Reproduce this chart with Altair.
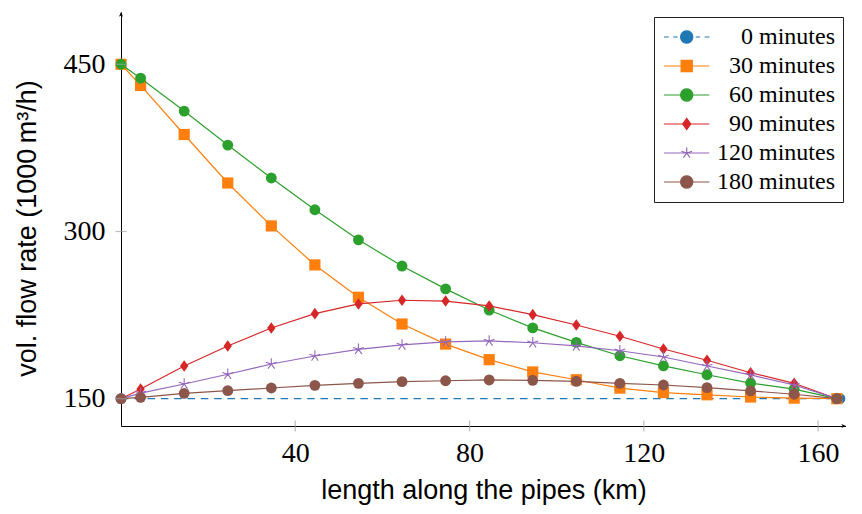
import math
import altair as alt
import pandas as pd

# ---------------- data ----------------
series = ["0 minutes", "30 minutes", "60 minutes", "90 minutes", "120 minutes", "180 minutes"]
colors = ["#1f77b4", "#ff7f0e", "#2ca02c", "#d62728", "#9467bd", "#8c564b"]

x_km = [0, 4.5, 14.5, 24.5, 34.5, 44.5, 54.5, 64.5, 74.5, 84.5, 94.5,
        104.5, 114.5, 124.5, 134.5, 144.5, 154.5, 164.3]

x_0min = [0, 165.0]
q_0min = [150, 150]
q_30min = [450, 431, 387, 343.5, 305, 270, 241, 217, 199, 185, 174,
           167, 159.5, 155.5, 153.5, 151.5, 150.5, 150]
q_60min = [450, 437.5, 408, 377.5, 348, 319.5, 292.5, 269, 248.5, 229.5, 213.5,
           200.5, 188.5, 179.5, 171.5, 164, 158.5, 150]
q_90min = [150, 158.7, 179.3, 197.3, 213.4, 226.3, 235, 238.3, 237.6, 233.2, 225.4,
           216.1, 206, 194.6, 184.5, 173.3, 163.8, 150]
q_120min = [150, 155, 163.2, 171.9, 181.1, 188.3, 194.3, 198.2, 200.9, 201.8, 200.2,
            197.3, 193, 187.4, 179.3, 171.3, 162.3, 150]
q_180min = [150, 151.2, 154.8, 157.2, 159.6, 162, 163.8, 165.3, 166.1, 166.8, 166.5,
            165.6, 163.8, 162.3, 159.9, 157, 154, 150]

x_ticks = [40, 80, 120, 160]
y_ticks = [150, 300, 450]

XMIN, XMAX = 0, 166.4
YMIN, YMAX = 125.5, 496.9

# ---------------- table ----------------
rows = [dict(series=series[0], x=a, y=b) for a, b in zip(x_0min, q_0min)]
for name, vals in zip(series[1:], [q_30min, q_60min, q_90min, q_120min, q_180min]):
    rows += [dict(series=name, x=a, y=b) for a, b in zip(x_km, vals)]
df = pd.DataFrame(rows)

# ---------------- legend symbol shapes (unit = 10 px, shifted right) ----------------
U = 10.0      # px per path unit for symbolSize 400
SH = 1.27     # horizontal shift of the symbol, in units


def P(xpx, ypx):
    return f"{xpx / U + SH:.3f},{ypx / U:.3f}"


def poly_circle(r, n=20):
    pts = [P(r * math.cos(2 * math.pi * k / n), r * math.sin(2 * math.pi * k / n)) for k in range(n)]
    return "M" + " L".join(pts) + " Z "


def seg(a, b):
    return f"M{P(a, 0)} L{P(b, 0)} "


CIRC = poly_circle(6.1)
SQ = f"M{P(-5.6, -5.6)} L{P(5.6, -5.6)} L{P(5.6, 5.6)} L{P(-5.6, 5.6)} Z "
DIA = f"M{P(0, -5.6)} L{P(4.1, 0)} L{P(0, 5.6)} L{P(-4.1, 0)} Z "
STAR = "".join(f"M{P(0, 0)} L{P(5.6 * math.sin(a), -5.6 * math.cos(a))} "
               for a in [2 * math.pi * k / 5 for k in range(5)])
LINE = seg(-22.65, 22.65)
DASH = seg(-22.65, -18.0) + seg(-13.5, -9.0) + seg(9.0, 13.5) + seg(18.0, 22.65)
legend_paths = [DASH + CIRC, LINE + SQ, LINE + CIRC, LINE + DIA, LINE + STAR, LINE + CIRC]

plot_diamond = "M0,-1 L0.72,0 L0,1 L-0.72,0 Z"
plot_star = "M0,0 L0,-1 M0,0 L0.951,-0.309 M0,0 L0.588,0.809 M0,0 L-0.588,0.809 M0,0 L-0.951,-0.309"

# ---------------- scales / axes ----------------
xs = alt.Scale(domain=[XMIN, XMAX], nice=False, zero=False)
ys = alt.Scale(domain=[YMIN, YMAX], nice=False, zero=False)
cs = alt.Scale(domain=series, range=colors)

x_axis = alt.Axis(values=x_ticks, title="length along the pipes (km)", grid=False,
                  ticks=False, tickSize=0, domainColor="black", domainWidth=1,
                  labelFont="Liberation Serif", labelFontSize=28, labelColor="black",
                  labelPadding=13, labelFlush=False,
                  titleFont="Liberation Sans", titleFontSize=27, titleFontWeight="normal",
                  titleColor="black", titleBaseline="alphabetic", titleY=72)
y_axis = alt.Axis(values=y_ticks, title="vol. flow rate (1000\u2009m³/h)", grid=False,
                  ticks=False, tickSize=0, domainColor="black", domainWidth=1,
                  labelFont="Liberation Serif", labelFontSize=28, labelColor="black",
                  labelPadding=16, labelFlush=False,
                  titleFont="Liberation Sans", titleFontSize=27, titleFontWeight="normal",
                  titleColor="black", titleBaseline="middle", titleAlign="center",
                  titleAngle=-90, titleX=-94, titleY=216)

X = alt.X("x:Q", scale=xs, axis=x_axis)
Y = alt.Y("y:Q", scale=ys, axis=y_axis)

base = alt.Chart(df)
layers = []
marker_specs = {
    "0 minutes": dict(shape="circle", size=118, filled=True),
    "30 minutes": dict(shape="square", size=125, filled=True),
    "60 minutes": dict(shape="circle", size=118, filled=True),
    "90 minutes": dict(shape=plot_diamond, size=135, filled=True),
    "120 minutes": dict(shape=plot_star, size=130, filled=False, strokeWidth=1.1),
    "180 minutes": dict(shape="circle", size=118, filled=True),
}
for name, col in zip(series, colors):
    sel = base.transform_filter(alt.datum.series == name)
    dash = dict(strokeDash=[7.5, 5.8]) if name == "0 minutes" else {}
    layers.append(sel.mark_line(strokeWidth=1.2, color=col, **dash).encode(x=X, y=Y))
    layers.append(sel.mark_point(color=col, opacity=1, **marker_specs[name]).encode(x=X, y=Y))

# tick marks centred on the axis lines
xt = alt.Chart(pd.DataFrame({"x": x_ticks, "y": [YMIN] * len(x_ticks)})).mark_tick(
    orient="vertical", size=11, thickness=1.2, color="#a0a0a0").encode(x=X, y=Y)
yt = alt.Chart(pd.DataFrame({"x": [XMIN] * len(y_ticks), "y": y_ticks})).mark_tick(
    orient="horizontal", size=11, thickness=1.2, color="#a0a0a0").encode(x=X, y=Y)

# axis arrowheads
arr_r = alt.Chart(pd.DataFrame({"x": [XMAX], "y": [YMIN]})).mark_point(
    shape="M0,0 L-1.7,-0.75 L-1.25,0 L-1.7,0.75 Z", size=30, filled=True, color="black",
    opacity=1).encode(x=X, y=Y)
arr_u = alt.Chart(pd.DataFrame({"x": [XMIN], "y": [YMAX]})).mark_point(
    shape="M0,0 L-0.75,1.7 L0,1.25 L0.75,1.7 Z", size=30, filled=True, color="black",
    opacity=1).encode(x=X, y=Y)

# legend-only layer: its marks sit outside the x domain and are clipped away
leg = alt.Legend(orient="none", legendX=533, legendY=5, title=None,
                 labelFont="Liberation Serif", labelFontSize=24, labelColor="black",
                 labelAlign="right", labelOffset=149,
                 symbolSize=400, symbolStrokeWidth=1.2, symbolOpacity=1,
                 padding=8, rowPadding=5, strokeColor="#222222", fillColor="white")
hidden = pd.DataFrame({"series": series, "x": [XMIN - 50] * len(series), "y": [YMIN] * len(series)})
legend_layer = alt.Chart(hidden).mark_point(filled=True, strokeWidth=1.2, opacity=1, clip=True).encode(
    x=X, y=Y,
    fill=alt.Fill("series:N", scale=cs, legend=leg),
    stroke=alt.Stroke("series:N", scale=cs, legend=leg),
    shape=alt.Shape("series:N", scale=alt.Scale(domain=series, range=legend_paths), legend=leg),
)

chart = alt.layer(*layers, xt, yt, arr_r, arr_u, legend_layer).properties(
    width=725, height=414,
    autosize=alt.AutoSizeParams(type="none"),
    padding={"left": 113, "top": 4, "right": 0, "bottom": 80},
).configure_view(stroke=None)

chart.save("out.html", embed_options={"renderer": "svg", "actions": False})
